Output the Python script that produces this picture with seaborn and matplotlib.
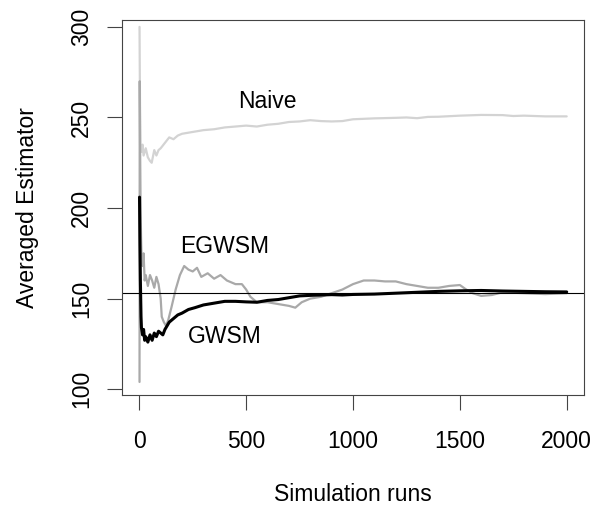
import numpy as np
import pandas as pd
import seaborn as sns
import matplotlib
matplotlib.use("Agg")
import matplotlib.pyplot as plt

# values (run index, averaged estimator)
naive_runs = [1, 2, 3, 5, 10, 15, 20, 30, 40, 50, 58, 70, 80, 90, 100, 120, 140, 160, 180, 200,
              250, 300, 350, 400, 450, 500, 550, 600, 650, 700, 750, 800, 850, 900, 950, 1000,
              1100, 1200, 1250, 1300, 1350, 1400, 1500, 1600, 1700, 1750, 1800, 1850, 1900, 2000]
naive_vals = [300, 280, 262, 234, 231, 235, 229, 233, 228, 226, 225, 232, 229, 232, 233, 236, 239, 238, 240, 241,
              242, 243, 243.5, 244.5, 245, 245.5, 245, 246, 246.5, 247.5, 247.8, 248.5, 248, 247.8, 248, 249,
              249.5, 249.8, 250, 249.6, 250.3, 250.4, 251, 251.4, 251.3, 250.8, 251, 250.8, 250.6, 250.6]

egwsm_runs = [1, 2, 4, 6, 8, 10, 15, 20, 25, 30, 40, 50, 60, 70, 80, 90, 100, 105, 115, 125, 135,
              150, 170, 190, 210, 230, 250, 270, 290, 320, 350, 380, 410, 450, 480, 500, 520, 550,
              600, 650, 700, 730, 760, 800, 850, 900, 950, 1000, 1050, 1100, 1150, 1200, 1250, 1300,
              1350, 1400, 1450, 1500, 1530, 1560, 1600, 1650, 1700, 1800, 1900, 2000]
egwsm_vals = [104, 270, 230, 200, 185, 175, 168, 175, 160, 163, 157, 163, 160, 156, 162, 158, 150, 140, 137, 135, 138,
              145, 155, 163, 168, 166, 165, 167, 162, 164, 161, 163, 160, 158, 158, 155, 151, 148,
              148, 147, 146, 145, 148, 150, 151, 153, 155, 158, 160, 160, 159.5, 159.5, 158, 157,
              156, 156, 157, 157.5, 155, 153, 151.5, 152, 153.5, 153, 152.5, 153]

gwsm_runs = [1, 3, 5, 8, 10, 15, 20, 25, 30, 40, 50, 60, 70, 80, 90, 100, 110, 120, 140, 160, 180,
             200, 230, 260, 300, 350, 400, 450, 500, 550, 600, 650, 700, 750, 800, 850, 900, 950,
             1000, 1100, 1200, 1300, 1400, 1500, 1600, 1700, 1800, 1900, 2000]
gwsm_vals = [206, 180, 160, 140, 134, 130, 133, 127, 129, 126, 130, 127, 131, 129, 132, 131, 130, 133, 137, 139, 141,
             142, 144, 145, 146.5, 147.5, 148.5, 148.5, 148.2, 148, 149, 149.5, 150.5, 151.5, 151.8, 152, 152.2, 152,
             152.3, 152.5, 153, 153.5, 154, 154.3, 154.5, 154.2, 154, 153.8, 153.7]

true_value = 153

x_ticks = [0, 500, 1000, 1500, 2000]
y_ticks = [100, 150, 200, 250, 300]

sns.set_theme(style="ticks")
plt.rcParams['font.family'] = ['Liberation Sans', 'DejaVu Sans']
plt.rcParams['text.color'] = 'black'
plt.rcParams['axes.labelcolor'] = 'black'
plt.rcParams['xtick.labelcolor'] = 'black'
plt.rcParams['ytick.labelcolor'] = 'black'

fig = plt.figure(figsize=(5.92, 5.08), dpi=100)
ax = fig.add_axes([122 / 592, 113 / 508, 462 / 592, 375 / 508])

sns.lineplot(x=naive_runs, y=naive_vals, color="#d3d3d3", linewidth=1.6, sort=False, ax=ax)
sns.lineplot(x=egwsm_runs, y=egwsm_vals, color="#a9a9a9", linewidth=1.6, sort=False, ax=ax)
sns.lineplot(x=gwsm_runs, y=gwsm_vals, color="black", linewidth=2.2, sort=False, ax=ax)
ax.axhline(true_value, color="black", linewidth=0.8)

fs = 16.5
ax.text(600, 258.8, "Naive", fontsize=fs, ha="center", va="center", color="black")
ax.text(400, 178.9, "EGWSM", fontsize=fs, ha="center", va="center", color="black")
ax.text(400, 129, "GWSM", fontsize=fs, ha="center", va="center", color="black")

ax.set_xlim(-81, 2081)
ax.set_ylim(96.8, 303.8)
ax.set_xticks(x_ticks)
ax.set_yticks(y_ticks)
ax.set_yticklabels([str(v) for v in y_ticks], rotation=90, va="center")
ax.tick_params(axis="both", direction="out", length=11, width=0.8, color="#444444",
               labelsize=fs, labelcolor="black")
ax.tick_params(axis="x", pad=14)
ax.tick_params(axis="y", pad=10)

for sp in ax.spines.values():
    sp.set_visible(True)
    sp.set_linewidth(0.8)
    sp.set_color("#444444")

ax.set_xlabel("Simulation runs", fontsize=fs, color="black")
ax.set_ylabel("Averaged Estimator", fontsize=fs, color="black")
ax.xaxis.set_label_coords(0.5, -0.234)
ax.yaxis.set_label_coords(-0.18, 0.5)

fig.savefig("out.png", dpi=100, facecolor="white")
